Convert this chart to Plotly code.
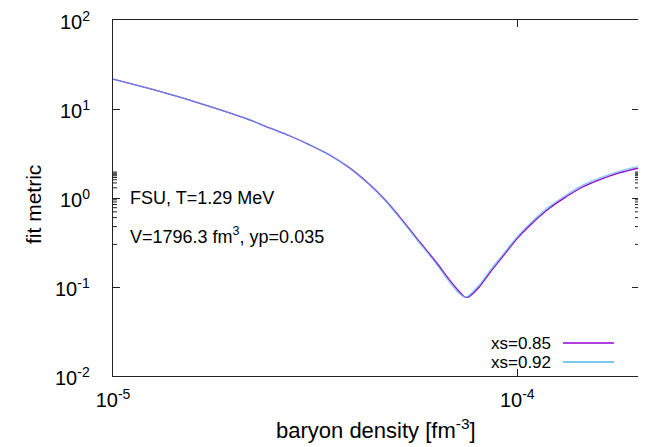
import math
import plotly.graph_objects as go

# baryon density [fm^-3]
density = [1.0e-5, 1.233e-5, 1.64e-5, 2.12e-5, 2.40e-5, 2.74e-5, 3.064e-5, 3.434e-5,
           3.847e-5, 4.311e-5, 4.694e-5, 5.111e-5, 5.728e-5, 6.310e-5, 6.794e-5, 7.19e-5,
           7.40e-5, 7.53e-5, 7.69e-5, 8.06e-5, 8.53e-5, 9.20e-5, 1.0e-4, 1.09e-4,
           1.20e-4, 1.32e-4, 1.445e-4, 1.59e-4, 1.787e-4, 1.99e-4]

# fit metric, xs = 0.85
metric_085 = [21.7, 16.9, 11.6, 7.9, 6.31, 4.97, 3.96, 3.04,
              2.18, 1.418, 0.969, 0.617, 0.323, 0.1885, 0.120, 0.0885,
              0.0778, 0.0765, 0.0813, 0.1007, 0.1426, 0.219, 0.352, 0.524,
              0.766, 1.03, 1.32, 1.59, 1.91, 2.16]

# fit metric, xs = 0.92
metric_092 = [21.7, 16.9, 11.6, 7.9, 6.31, 4.97, 3.96, 3.03,
              2.17, 1.405, 0.955, 0.603, 0.313, 0.181, 0.114, 0.0845,
              0.0772, 0.0780, 0.0850, 0.106, 0.150, 0.230, 0.368, 0.548,
              0.80, 1.075, 1.38, 1.66, 1.99, 2.25]

series_names = ["xs=0.85", "xs=0.92"]
series_colors = ["#9400d3", "#56b4e9"]
series_opacity = [1.0, 0.72]

x_tickvals = [1e-5, 1e-4]
x_ticktext = ["10<sup>-5</sup>", "10<sup>-4</sup>"]
y_tickvals = [1e-2, 1e-1, 1e0, 1e1, 1e2]
y_ticktext = ["10<sup>-2</sup>", "10<sup>-1</sup>", "10<sup>0</sup>", "10<sup>1</sup>", "10<sup>2</sup>"]

# minor tick positions (2..9 within each decade)
x_minor = [m * 10.0 ** e for e in (-5, -4) for m in range(2, 10) if m * 10.0 ** e <= 2e-4]
y_minor = [m * 10.0 ** e for e in (-2, -1, 0, 1) for m in range(2, 10)]

FONT = "Liberation Sans, Arial, Helvetica, sans-serif"

# page body has an 8px margin: figure is shrunk so the plot lands where the reference has it
PL, PT, PW, PH = 113, 20, 526, 356   # plot area in page pixels


def px(xp):
    return (xp - PL) / PW


def py(yp):
    return (PT + PH - yp) / PH


fig = go.Figure()
for name, ys, col, op in zip(series_names, [metric_085, metric_092], series_colors, series_opacity):
    fig.add_trace(go.Scatter(x=density, y=ys, mode="lines", name=name, opacity=op,
                             line=dict(color=col, width=1.3, shape="spline", smoothing=1.0),
                             showlegend=False))

axis_common = dict(
    type="log", showgrid=False, zeroline=False, showline=True, mirror="allticks",
    linecolor="#222", linewidth=1.3, ticks="inside", ticklen=7, tickcolor="#222", tickwidth=1,
    tickfont=dict(family=FONT, size=20, color="black"), ticklabeloverflow="allow",
)

fig.update_xaxes(range=[-5, -3.699], tickvals=x_tickvals, ticktext=x_ticktext,
                 ticklabelstandoff=6, **axis_common)
fig.update_yaxes(range=[-2, 2], tickvals=y_tickvals, showticklabels=False, **axis_common)

ann_font = dict(family=FONT, size=18, color="black")
annotations = []
# y tick labels, placed away from the axis as in the reference
for v, t in zip(y_tickvals, y_ticktext):
    annotations.append(dict(text=t, x=px(92), y=math.log10(v), xref="paper", yref="y",
                            xanchor="right", yanchor="middle", showarrow=False,
                            font=dict(family=FONT, size=20, color="black")))

annotations += [
    dict(text="FSU, T=1.29 MeV", x=px(128), y=py(198),
         xref="paper", yref="paper", xanchor="left", yanchor="middle", showarrow=False, font=ann_font),
    dict(text="V=1796.3 fm<sup>3</sup>, yp=0.035", x=px(128), y=py(236),
         xref="paper", yref="paper", xanchor="left", yanchor="middle", showarrow=False, font=ann_font),
    dict(text="baryon density [fm<sup>-3</sup>]", x=px(376), y=py(429),
         xref="paper", yref="paper", xanchor="center", yanchor="middle", showarrow=False,
         font=dict(family=FONT, size=22, color="black")),
    dict(text="fit metric", x=px(33), y=py(205), textangle=-90,
         xref="paper", yref="paper", xanchor="center", yanchor="middle", showarrow=False,
         font=dict(family=FONT, size=21, color="black")),
]
shapes = []
# minor ticks (inside, on all four sides)
mx = 4.0 / PW
my = 4.0 / PH
tick_line = dict(color="#222", width=1)
for v in y_minor:
    lv = math.log10(v)
    shapes.append(dict(type="line", xref="paper", yref="y", x0=0, x1=mx, y0=lv, y1=lv, line=tick_line))
    shapes.append(dict(type="line", xref="paper", yref="y", x0=1 - mx, x1=1, y0=lv, y1=lv, line=tick_line))
for v in x_minor:
    lv = math.log10(v)
    shapes.append(dict(type="line", xref="x", yref="paper", x0=lv, x1=lv, y0=0, y1=my, line=tick_line))
    shapes.append(dict(type="line", xref="x", yref="paper", x0=lv, x1=lv, y0=1 - my, y1=1, line=tick_line))

for i, (name, col) in enumerate(zip(series_names, series_colors)):
    yc = 343 + 19 * i
    annotations.append(dict(text=name, x=px(552), y=py(yc), borderpad=0,
                            xref="paper", yref="paper", xanchor="right", yanchor="middle",
                            showarrow=False, font=dict(family=FONT, size=17, color="black")))
    shapes.append(dict(type="line", xref="paper", yref="paper",
                       x0=px(563), x1=px(614), y0=py(yc), y1=py(yc),
                       line=dict(color=col, width=1.3)))

W, H = 646 - 8, 447 - 8
fig.update_layout(
    width=W, height=H,
    margin=dict(l=PL - 8, r=W - (PL - 8) - PW, t=PT - 8, b=H - (PT - 8) - PH),
    paper_bgcolor="white", plot_bgcolor="white",
    annotations=annotations, shapes=shapes,
    font=dict(family=FONT, color="black"),
)

fig.write_html("out.html")
